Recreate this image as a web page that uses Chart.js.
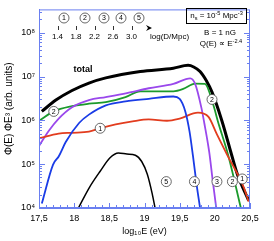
<!DOCTYPE html>
<html>
<head>
<meta charset="utf-8">
<script src="https://cdn.jsdelivr.net/npm/chart.js@4/dist/chart.umd.min.js"></script>
<style>
body { margin: 0; background: #fff; }
</style>
</head>
<body>
<canvas id="fluxChart" width="274" height="241"></canvas>
<script>
// log10(E / eV) and Phi(E) E^3 (arb. units)
const totalE = [17.54, 17.74, 17.97, 18.21, 18.45, 18.94, 19.41, 19.62, 19.70, 19.79, 19.88, 19.96, 20.10, 20.24, 20.32, 20.48];
const totalFlux = [1.6e6, 2.9e6, 4.8e6, 7.1e6, 9.3e6, 1.3e7, 1.55e7, 1.8e7, 1.65e7, 1.3e7, 8.0e6, 4.4e6, 9.8e5, 1.6e5, 5.9e4, 1.5e4];

const src1E = [17.5, 17.78, 17.97, 18.21, 18.37, 18.59, 18.83, 19.06, 19.32, 19.5, 19.76, 19.91, 20.03, 20.17, 20.41, 20.48];
const src1Flux = [3.9e5, 5.0e5, 5.2e5, 5.5e5, 6.6e5, 8.1e5, 9.5e5, 1.05e6, 9.8e5, 1.1e6, 1.5e6, 1.2e6, 4.8e5, 1.7e5, 3.0e4, 1.4e4];

const src2E = [17.5, 17.71, 17.97, 18.21, 18.45, 18.73, 18.94, 19.17, 19.41, 19.55, 19.72, 19.86, 19.98, 20.05, 20.10, 20.19, 20.37];
const src2Flux = [9.8e5, 1.6e6, 2.1e6, 2.4e6, 2.6e6, 3.4e6, 4.6e6, 4.6e6, 4.6e6, 5.2e6, 6.9e6, 6.8e6, 2.2e6, 8.7e5, 4.8e5, 1.6e5, 1.0e4];

const src3E = [17.5, 17.64, 17.78, 17.97, 18.21, 18.45, 18.75, 19.06, 19.41, 19.65, 19.72, 19.81, 19.85, 19.92, 19.97, 20.02];
const src3Flux = [2.6e5, 5.8e5, 1.1e6, 2.0e6, 2.9e6, 3.4e6, 4.2e6, 5.4e6, 6.8e6, 9.1e6, 6.8e6, 1.9e6, 8.7e5, 1.9e5, 4.2e4, 1.0e4];

const src4E = [17.54, 17.70, 17.78, 17.88, 18.07, 18.21, 18.45, 18.73, 19.06, 19.41, 19.5, 19.58, 19.64, 19.69, 19.74, 19.79];
const src4Flux = [1.26e4, 9.8e4, 1.5e5, 3.2e5, 8.7e5, 1.35e6, 2.2e6, 2.7e6, 3.1e6, 3.5e6, 3.1e6, 1.6e6, 5.6e5, 1.5e5, 3.5e4, 1.0e4];

const src5E = [18.06, 18.22, 18.37, 18.51, 18.63, 18.75, 18.87, 18.96, 19.04, 19.11, 19.15];
const src5Flux = [1.0e4, 3.0e4, 6.9e4, 1.4e5, 1.8e5, 1.7e5, 1.6e5, 1.15e5, 5.9e4, 2.1e4, 1.0e4];

const xTicks = [17.5, 18, 18.5, 19, 19.5, 20, 20.5];
const yTicks = [1e4, 1e5, 1e6, 1e7, 1e8];
const distLabels = ['1.4', '1.8', '2.2', '2.6', '3.0'];
const sourceNames = ['1', '2', '3', '4', '5'];

const axisBlue = '#6a7ff0';
const font = 'Liberation Sans, Arial, sans-serif';

function pts(xs, ys) {
    return xs.map((x, i) => ({ x: x, y: ys[i] }));
}

function line(data, color, width) {
    return {
        data: data,
        borderColor: color,
        borderWidth: width,
        pointRadius: 0,
        fill: false,
        cubicInterpolationMode: 'monotone'
    };
}

function circled(ctx, x, y, t) {
    ctx.save();
    ctx.beginPath();
    ctx.arc(x, y, 5, 0, Math.PI * 2);
    ctx.fillStyle = '#fff';
    ctx.fill();
    ctx.lineWidth = 0.8;
    ctx.strokeStyle = '#444';
    ctx.stroke();
    ctx.fillStyle = '#000';
    ctx.font = '7px ' + font;
    ctx.textAlign = 'center';
    ctx.textBaseline = 'middle';
    ctx.fillText(t, x, y + 0.5);
    ctx.restore();
}

// runs: [text, shift] with shift -1 = superscript, 1 = subscript
function runs(ctx, parts, cx, y, size) {
    ctx.save();
    ctx.textBaseline = 'middle';
    ctx.textAlign = 'left';
    let w = 0;
    parts.forEach(p => {
        ctx.font = (p[1] ? size * 0.7 : size) + 'px ' + font;
        w += ctx.measureText(p[0]).width;
    });
    let x = cx - w / 2;
    parts.forEach(p => {
        ctx.font = (p[1] ? size * 0.7 : size) + 'px ' + font;
        ctx.fillText(p[0], x, y + p[1] * size * 0.35);
        x += ctx.measureText(p[0]).width;
    });
    ctx.restore();
}

const decorations = {
    id: 'decorations',
    afterDraw(chart) {
        const ctx = chart.ctx;
        const a = chart.chartArea;
        const xs = chart.scales.x;
        const ys = chart.scales.y;
        ctx.save();

        // frame and inward ticks
        ctx.strokeStyle = axisBlue;
        ctx.lineWidth = 1;
        ctx.strokeRect(a.left + 0.5, a.top + 0.5, a.right - a.left - 1, a.bottom - a.top - 1);
        ctx.beginPath();
        for (let d = 4; d <= 8; d++) {
            for (let m = 1; m <= 9; m++) {
                const v = m * Math.pow(10, d);
                if (v > ys.max) break;
                const py = Math.round(ys.getPixelForValue(v)) + 0.5;
                const len = m === 1 ? 6 : 3;
                ctx.moveTo(a.left, py); ctx.lineTo(a.left + len, py);
                ctx.moveTo(a.right, py); ctx.lineTo(a.right - len, py);
            }
        }
        for (let i = 0; i <= 30; i++) {
            const px = Math.round(xs.getPixelForValue(17.5 + i * 0.1)) + 0.5;
            const len = i % 5 === 0 ? 5 : 3;
            ctx.moveTo(px, a.bottom); ctx.lineTo(px, a.bottom - len);
        }
        ctx.stroke();

        // labels on the curves
        circled(ctx, xs.getPixelForValue(18.37), ys.getPixelForValue(6.6e5), '1');
        circled(ctx, xs.getPixelForValue(17.71), ys.getPixelForValue(1.6e6), '2');
        circled(ctx, xs.getPixelForValue(19.96), ys.getPixelForValue(3.0e6), '2');
        const bottomX = [20.39, 20.25, 20.03, 19.71, 19.31];
        bottomX.forEach((x, i) => {
            circled(ctx, xs.getPixelForValue(x), ys.getPixelForValue(i === 0 ? 4.6e4 : 4.0e4), sourceNames[i]);
        });

        ctx.fillStyle = '#000';
        ctx.font = 'bold 9px ' + font;
        ctx.textAlign = 'center';
        ctx.textBaseline = 'middle';
        ctx.fillText('total', 83, 70);

        // distance scale at the top
        const circX = [64, 85, 104, 121, 139];
        circX.forEach((x, i) => circled(ctx, x, 18, sourceNames[i]));
        ctx.strokeStyle = '#000';
        ctx.lineWidth = 0.8;
        ctx.beginPath();
        distLabels.forEach((t, i) => {
            const x = Math.round(57.5 + i * 18.5) + 0.5;
            ctx.moveTo(x, 26); ctx.lineTo(x, 30);
        });
        ctx.stroke();
        ctx.font = '8px ' + font;
        distLabels.forEach((t, i) => ctx.fillText(t, 57.5 + i * 18.5, 37));
        ctx.beginPath();
        ctx.moveTo(146, 25); ctx.lineTo(152, 28); ctx.lineTo(146, 31); ctx.lineTo(148, 28);
        ctx.closePath();
        ctx.fill();
        ctx.textAlign = 'left';
        ctx.fillText('log(D/Mpc)', 150, 37);

        // parameters box
        ctx.strokeStyle = '#000';
        ctx.lineWidth = 1;
        ctx.strokeRect(186.5, 8.5, 60, 15);
        runs(ctx, [['n', 0], ['s', 1], [' = 10', 0], ['-5', -1], [' Mpc', 0], ['-3', -1]], 216.5, 16, 8);
        runs(ctx, [['B = 1 nG', 0]], 220, 33, 8);
        runs(ctx, [['Q(E) \u221d E', 0], ['-2.4', -1]], 221, 44, 8);
        ctx.restore();
    }
};

const ctx = document.getElementById('fluxChart').getContext('2d');
const fluxChart = new Chart(ctx, {
    type: 'line',
    data: {
        datasets: [
            line(pts(src5E, src5Flux), '#000000', 1.5),
            line(pts(src4E, src4Flux), '#1a3ce6', 1.8),
            line(pts(src1E, src1Flux), '#e23c1e', 1.8),
            line(pts(src3E, src3Flux), '#9a48ec', 1.8),
            line(pts(src2E, src2Flux), '#1b9a2c', 1.8),
            line(pts(totalE, totalFlux), '#000000', 3)
        ]
    },
    options: {
        responsive: false,
        animation: false,
        devicePixelRatio: 1,
        layout: { padding: { top: 2, right: 24, left: 0, bottom: 0 } },
        plugins: { legend: { display: false }, tooltip: { enabled: false } },
        scales: {
            x: {
                type: 'linear',
                min: 17.5,
                max: 20.5,
                afterBuildTicks: s => { s.ticks = xTicks.map(v => ({ value: v })); },
                afterFit: s => { s.height = 33; },
                grid: { display: false, drawTicks: false },
                border: { color: axisBlue },
                ticks: {
                    padding: 5,
                    color: '#000',
                    font: { family: font, size: 9 },
                    maxRotation: 0,
                    callback: v => String(v).replace('.', ',')
                },
                title: {
                    display: true,
                    text: 'log\u2081\u2080E (eV)',
                    color: '#000',
                    font: { family: font, size: 9 },
                    padding: { top: 2, bottom: 4 }
                }
            },
            y: {
                type: 'logarithmic',
                min: 1e4,
                max: 3.4e8,
                afterBuildTicks: s => { s.ticks = yTicks.map(v => ({ value: v })); },
                afterFit: s => { s.width = 39; },
                grid: { display: false, drawTicks: false },
                border: { color: axisBlue },
                ticks: {
                    padding: 4,
                    color: '#000',
                    font: { family: font, size: 9 },
                    callback: v => '10' + '\u2070\u00b9\u00b2\u00b3\u2074\u2075\u2076\u2077\u2078\u2079'[Math.round(Math.log10(v))]
                },
                title: {
                    display: true,
                    text: '\u03a6(E) \u03a6E\u00b3 (arb. units)',
                    color: '#000',
                    font: { family: font, size: 10 },
                    padding: { top: 3, bottom: 0 }
                }
            }
        }
    },
    plugins: [decorations]
});
</script>
</body>
</html>
